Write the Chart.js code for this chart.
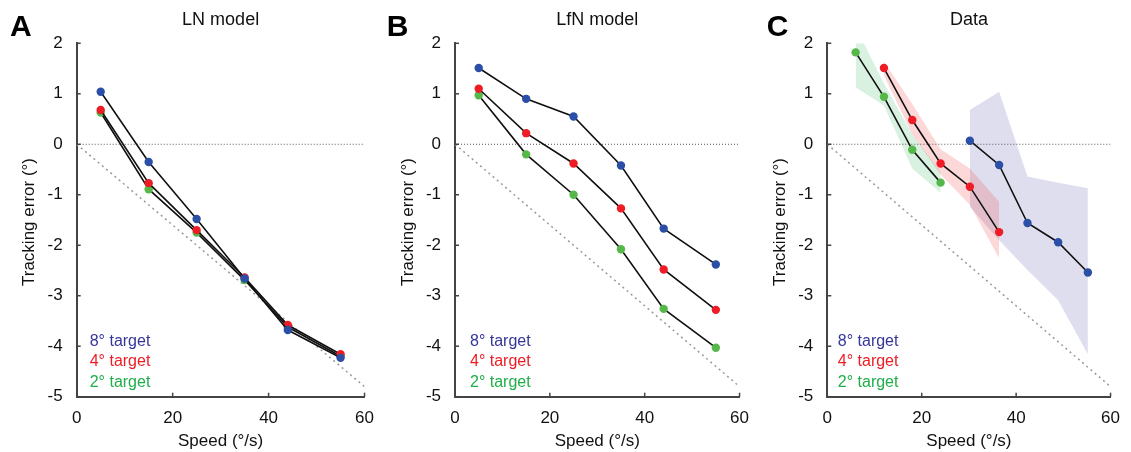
<!DOCTYPE html>
<html>
<head>
<meta charset="utf-8">
<script src="https://cdn.jsdelivr.net/npm/chart.js@4"></script>
<style>
  body { margin: 0; background: #fff; }
  #wrap { position: relative; width: 1131px; height: 452px; }
  .panel { position: absolute; top: 0; height: 452px; }
</style>
</head>
<body>
<div id="wrap">
  <div class="panel" style="left:0px;width:385px"><canvas id="chartA" width="385" height="452"></canvas></div>
  <div class="panel" style="left:385px;width:375px"><canvas id="chartB" width="375" height="452"></canvas></div>
  <div class="panel" style="left:760px;width:371px"><canvas id="chartC" width="371" height="452"></canvas></div>
</div>
<script>
// Panel A - LN model
const lnSpeed = [5, 15, 25, 35, 44, 55];
const lnErr8 = [1.04, -0.35, -1.48, -2.66, -3.68, -4.23];
const lnErr4 = [0.68, -0.77, -1.70, -2.64, -3.58, -4.16];
const lnErr2 = [0.63, -0.89, -1.75, -2.69, -3.62, -4.20];

// Panel B - LfN model
const lfnSpeed = [5, 15, 25, 35, 44, 55];
const lfnErr8 = [1.51, 0.90, 0.55, -0.42, -1.67, -2.38];
const lfnErr4 = [1.10, 0.22, -0.38, -1.27, -2.48, -3.28];
const lfnErr2 = [0.97, -0.20, -1.00, -2.08, -3.26, -4.03];

// Panel C - Data (mean + shaded range)
const dataSpeed8 = [30.2, 36.4, 42.4, 48.9, 55.2];
const dataErr8 = [0.07, -0.41, -1.56, -1.94, -2.54];
const dataHi8 = [0.68, 1.04, -0.64, -0.76, -0.87];
const dataLo8 = [-1.24, -1.90, -2.49, -3.09, -4.16];

const dataSpeed4 = [12, 18, 24, 30.2, 36.4];
const dataErr4 = [1.51, 0.48, -0.38, -0.84, -1.74];
const dataHi4 = [1.64, 0.80, -0.10, -0.48, -1.14];
const dataLo4 = [1.36, 0.20, -0.60, -1.20, -2.26];

const dataSpeed2 = [6, 12, 18, 24];
const dataErr2 = [1.82, 0.94, -0.11, -0.76];
const dataHi2 = [2.33, 1.20, 0.20, -0.55];
const dataLo2 = [1.13, 0.77, -0.48, -0.96];

// reference lines
const zeroSpeed = [0, 60];
const zeroErr = [0, 0];
const diagSpeed = [0, 60];
const diagErr = [0, -4.8];

const legendLabels = ['8\u00b0 target', '4\u00b0 target', '2\u00b0 target'];
const xTicks = [0, 20, 40, 60];
const yTicks = [2, 1, 0, -1, -2, -3, -4, -5];

const BLUE = '#2b4fa6';
const RED = '#ee1c25';
const GREEN = '#55b848';
const legendColors = ['#34369a', '#ee1c25', '#1fae4b'];
const FONT = 'Liberation Sans';

const PLOT_TOP = 43.3;
const PLOT_BOTTOM = 396.7;

function pts(xs, ys) {
    return xs.map((x, i) => ({ x: x, y: ys[i] }));
}

function refLines() {
    return [
        { data: pts(zeroSpeed, zeroErr), borderColor: '#555', borderWidth: 1, borderDash: [1, 2], pointRadius: 0, order: 3 },
        { data: pts(diagSpeed, diagErr), borderColor: '#999', borderWidth: 1.5, borderDash: [2, 3.5], pointRadius: 0, order: 3 }
    ];
}

function series(xs, ys, color) {
    return {
        data: pts(xs, ys),
        borderColor: '#111',
        borderWidth: 1.6,
        pointRadius: 4.2,
        pointBackgroundColor: color,
        pointBorderColor: color,
        pointBorderWidth: 0,
        order: 1
    };
}

// Draws titles, panel letters, axis titles, inward ticks and the legend text
const decorPlugin = {
    id: 'decor',
    afterDraw(chart, args, opts) {
        const ctx = chart.ctx;
        const area = chart.chartArea;
        ctx.save();

        // inward ticks
        ctx.strokeStyle = '#444';
        ctx.lineWidth = 1.5;
        const xs = chart.scales.x, ys = chart.scales.y;
        xTicks.forEach(v => {
            const px = xs.getPixelForValue(v);
            ctx.beginPath();
            ctx.moveTo(px, area.bottom);
            ctx.lineTo(px, area.bottom - 4);
            ctx.stroke();
        });
        yTicks.forEach(v => {
            const py = ys.getPixelForValue(v);
            ctx.beginPath();
            ctx.moveTo(area.left, py);
            ctx.lineTo(area.left + 4, py);
            ctx.stroke();
        });

        // panel letter
        ctx.fillStyle = '#000';
        ctx.font = 'bold 30px ' + FONT;
        ctx.textAlign = 'left';
        ctx.textBaseline = 'alphabetic';
        ctx.fillText(opts.letter, opts.letterX, 36);

        // title
        const cx = (area.left + area.right) / 2;
        ctx.font = '18px ' + FONT;
        ctx.textAlign = 'center';
        ctx.fillStyle = '#111';
        ctx.fillText(opts.title, cx, 25);

        // x axis title
        ctx.font = '17px ' + FONT;
        ctx.fillText('Speed (\u00b0/s)', cx, 446);

        // y axis title
        ctx.save();
        ctx.translate(area.left - 47, (area.top + area.bottom) / 2 + 2);
        ctx.rotate(-Math.PI / 2);
        ctx.textBaseline = 'middle';
        ctx.fillText('Tracking error (\u00b0)', 0, 0);
        ctx.restore();

        // legend text
        ctx.font = '16px ' + FONT;
        ctx.textAlign = 'left';
        legendLabels.forEach((t, i) => {
            ctx.fillStyle = legendColors[i];
            ctx.fillText(t, area.left + opts.legendDx, 345.5 + i * 20.5);
        });
        ctx.restore();
    }
};

function makeChart(canvasId, panel, datasets) {
    const cv = document.getElementById(canvasId);
    const yWidth = panel.plotLeft - panel.canvasLeft;
    const padRight = panel.canvasLeft + panel.canvasWidth - panel.plotRight;
    return new Chart(cv, {
        type: 'line',
        data: { datasets: datasets },
        options: {
            responsive: false,
            animation: false,
            layout: { padding: { top: PLOT_TOP, right: padRight, left: 0, bottom: 0 } },
            plugins: {
                legend: { display: false },
                tooltip: { enabled: false },
                decor: { letter: panel.letter, letterX: panel.letterX, title: panel.title, legendDx: panel.legendDx }
            },
            scales: {
                x: {
                    type: 'linear',
                    min: 0, max: 60,
                    grid: { display: false, drawTicks: false },
                    border: { display: true, color: '#444', width: 2 },
                    ticks: { stepSize: 20, padding: 11, color: '#111', font: { family: FONT, size: 17 }, maxRotation: 0 },
                    afterFit(scale) { scale.height = 452 - PLOT_BOTTOM; }
                },
                y: {
                    min: -5, max: 2,
                    grid: { display: false, drawTicks: false },
                    border: { display: true, color: '#444', width: 2 },
                    ticks: { stepSize: 1, padding: 14, color: '#111', font: { family: FONT, size: 17 } },
                    afterFit(scale) { scale.width = yWidth; }
                }
            }
        },
        plugins: [decorPlugin]
    });
}

makeChart('chartA',
    { canvasLeft: 0, canvasWidth: 385, plotLeft: 76.7, plotRight: 366.7, letter: 'A', letterX: 10, title: 'LN model', legendDx: 13 },
    [
        series(lnSpeed, lnErr8, BLUE),
        series(lnSpeed, lnErr4, RED),
        series(lnSpeed, lnErr2, GREEN),
        ...refLines()
    ]);

makeChart('chartB',
    { canvasLeft: 385, canvasWidth: 375, plotLeft: 455, plotRight: 745, letter: 'B', letterX: 1.7, title: 'LfN model', legendDx: 15 },
    [
        series(lfnSpeed, lfnErr8, BLUE),
        series(lfnSpeed, lfnErr4, RED),
        series(lfnSpeed, lfnErr2, GREEN),
        ...refLines()
    ]);

makeChart('chartC',
    { canvasLeft: 760, canvasWidth: 371, plotLeft: 827.3, plotRight: 1116.7, letter: 'C', letterX: 6.7, title: 'Data', legendDx: 10.5 },
    [
        series(dataSpeed8, dataErr8, BLUE),
        series(dataSpeed4, dataErr4, RED),
        series(dataSpeed2, dataErr2, GREEN),
        ...refLines(),
        // shaded ranges: lower edge then upper edge filled down to it
        { data: pts(dataSpeed8, dataLo8), borderWidth: 0, pointRadius: 0, order: 6 },
        { data: pts(dataSpeed8, dataHi8), borderWidth: 0, pointRadius: 0, order: 6, fill: { target: 5 }, backgroundColor: 'rgba(70,70,160,0.18)' },
        { data: pts(dataSpeed4, dataLo4), borderWidth: 0, pointRadius: 0, order: 5 },
        { data: pts(dataSpeed4, dataHi4), borderWidth: 0, pointRadius: 0, order: 5, fill: { target: 7 }, backgroundColor: 'rgba(240,60,60,0.2)' },
        { data: pts(dataSpeed2, dataLo2), borderWidth: 0, pointRadius: 0, order: 5 },
        { data: pts(dataSpeed2, dataHi2), borderWidth: 0, pointRadius: 0, order: 5, fill: { target: 9 }, backgroundColor: 'rgba(40,180,90,0.18)' }
    ]);
</script>
</body>
</html>
